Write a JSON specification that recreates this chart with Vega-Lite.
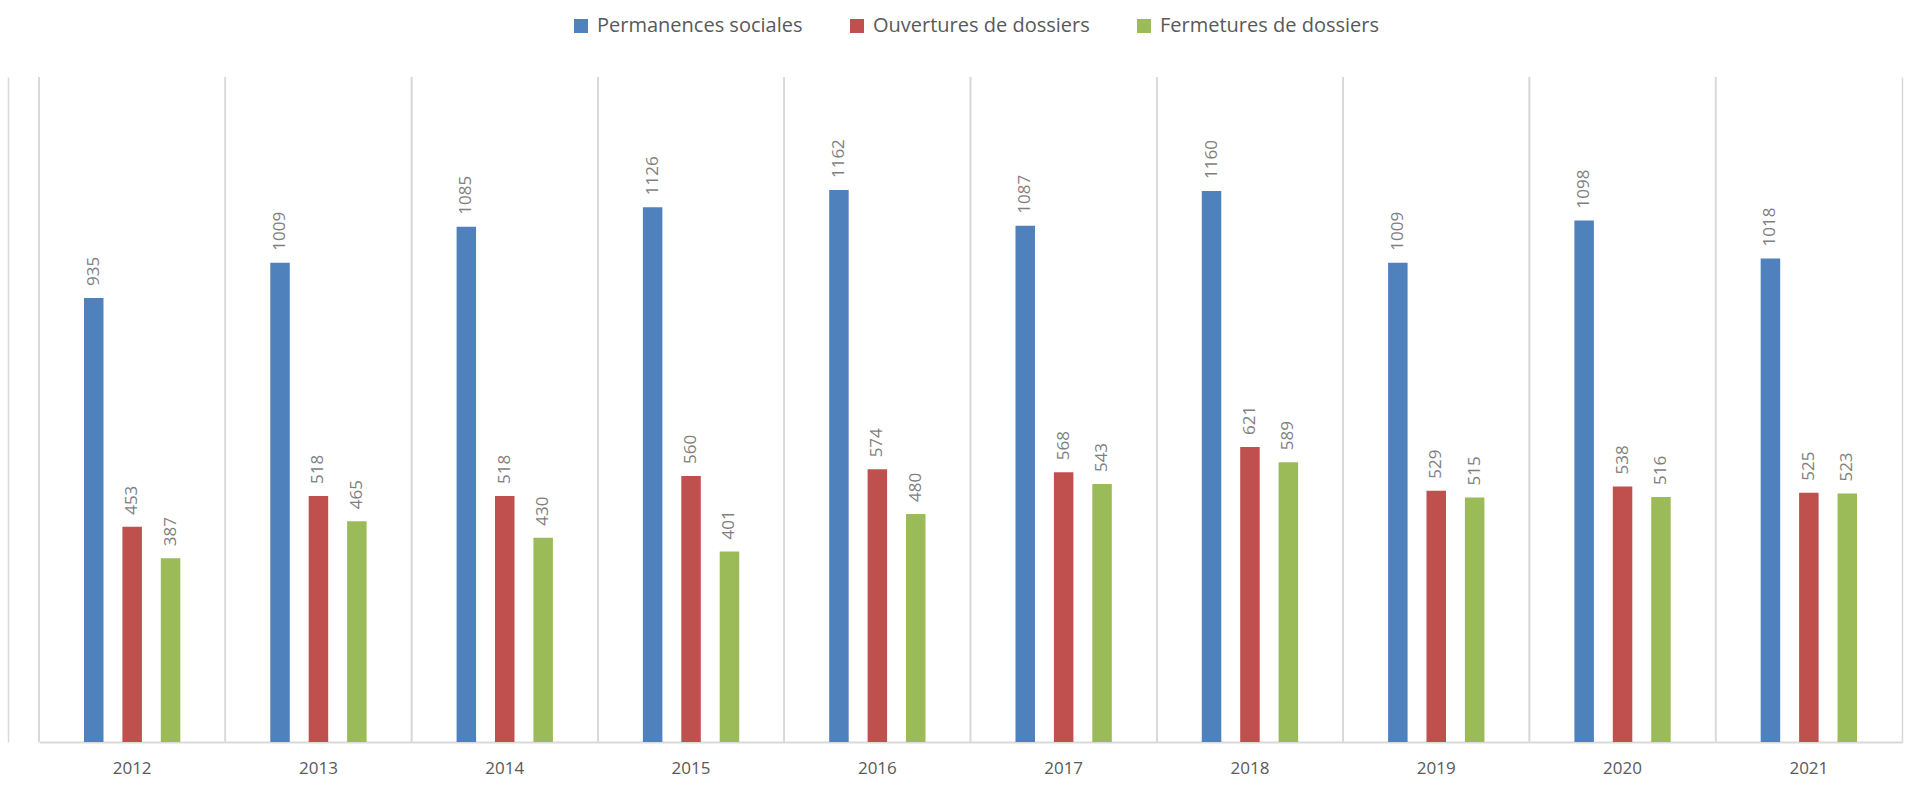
{
  "$schema": "https://vega.github.io/schema/vega-lite/v6.json",
  "width": 1863,
  "height": 665,
  "autosize": {"type": "none"},
  "padding": {"left": 39, "top": 77, "right": 8, "bottom": 51},
  "config": {"view": {"stroke": null}, "font": "Open Sans"},
  "data": {
    "values": [
      {"year": "2012", "serie": "Permanences sociales", "value": 935},
      {"year": "2012", "serie": "Ouvertures de dossiers", "value": 453},
      {"year": "2012", "serie": "Fermetures de dossiers", "value": 387},
      {"year": "2013", "serie": "Permanences sociales", "value": 1009},
      {"year": "2013", "serie": "Ouvertures de dossiers", "value": 518},
      {"year": "2013", "serie": "Fermetures de dossiers", "value": 465},
      {"year": "2014", "serie": "Permanences sociales", "value": 1085},
      {"year": "2014", "serie": "Ouvertures de dossiers", "value": 518},
      {"year": "2014", "serie": "Fermetures de dossiers", "value": 430},
      {"year": "2015", "serie": "Permanences sociales", "value": 1126},
      {"year": "2015", "serie": "Ouvertures de dossiers", "value": 560},
      {"year": "2015", "serie": "Fermetures de dossiers", "value": 401},
      {"year": "2016", "serie": "Permanences sociales", "value": 1162},
      {"year": "2016", "serie": "Ouvertures de dossiers", "value": 574},
      {"year": "2016", "serie": "Fermetures de dossiers", "value": 480},
      {"year": "2017", "serie": "Permanences sociales", "value": 1087},
      {"year": "2017", "serie": "Ouvertures de dossiers", "value": 568},
      {"year": "2017", "serie": "Fermetures de dossiers", "value": 543},
      {"year": "2018", "serie": "Permanences sociales", "value": 1160},
      {"year": "2018", "serie": "Ouvertures de dossiers", "value": 621},
      {"year": "2018", "serie": "Fermetures de dossiers", "value": 589},
      {"year": "2019", "serie": "Permanences sociales", "value": 1009},
      {"year": "2019", "serie": "Ouvertures de dossiers", "value": 529},
      {"year": "2019", "serie": "Fermetures de dossiers", "value": 515},
      {"year": "2020", "serie": "Permanences sociales", "value": 1098},
      {"year": "2020", "serie": "Ouvertures de dossiers", "value": 538},
      {"year": "2020", "serie": "Fermetures de dossiers", "value": 516},
      {"year": "2021", "serie": "Permanences sociales", "value": 1018},
      {"year": "2021", "serie": "Ouvertures de dossiers", "value": 525},
      {"year": "2021", "serie": "Fermetures de dossiers", "value": 523}
    ]
  },
  "resolve": {"axis": {"y": "independent"}},
  "layer": [
    {
      "mark": {"type": "rule", "color": "#d9d9d9", "strokeWidth": 1.5},
      "encoding": {
        "x": {"field": "year", "type": "nominal", "bandPosition": 0,
              "scale": {"paddingInner": 0, "paddingOuter": 0},
              "axis": {"title": null, "labelAngle": 0, "labelFontSize": 17, "labelColor": "#595959",
                       "labelPadding": 18, "ticks": false, "domainColor": "#d9d9d9", "domainWidth": 2, "grid": false}},
        "y": {"datum": 0, "type": "quantitative", "scale": {"domain": [0, 1400]},
              "axis": {"orient": "left", "offset": 31, "labels": false, "ticks": false, "grid": false,
                       "title": null, "domainColor": "#d9d9d9", "domainWidth": 1.5}},
        "y2": {"datum": 1400}
      }
    },
    {
      "mark": {"type": "bar", "width": 19.5},
      "encoding": {
        "x": {"field": "year", "type": "nominal",
              "axis": {"title": null, "labelAngle": 0, "labelFontSize": 17, "labelColor": "#595959",
                       "labelPadding": 18, "ticks": false, "domainColor": "#d9d9d9", "domainWidth": 2, "grid": false}},
        "xOffset": {"field": "serie", "type": "nominal",
                    "sort": ["Permanences sociales", "Ouvertures de dossiers", "Fermetures de dossiers"],
                    "scale": {"paddingInner": 0.15, "paddingOuter": 1}},
        "y": {"field": "value", "type": "quantitative",
              "axis": {"orient": "right", "labels": false, "ticks": false, "grid": false, "title": null,
                       "domainColor": "#d9d9d9", "domainWidth": 1.5}},
        "color": {"field": "serie", "type": "nominal",
                  "sort": ["Permanences sociales", "Ouvertures de dossiers", "Fermetures de dossiers"],
                  "scale": {"domain": ["Permanences sociales", "Ouvertures de dossiers", "Fermetures de dossiers"],
                            "range": ["#4f81bd", "#c0504d", "#9bbb59"]},
                  "legend": {"title": null, "orient": "none", "legendX": 532, "legendY": -61,
                             "direction": "horizontal", "symbolType": "square", "symbolSize": 196,
                             "symbolStrokeWidth": 0, "labelFontSize": 20, "labelColor": "#595959",
                             "labelOffset": 6, "columnPadding": 44, "labelLimit": 400}}
      }
    },
    {
      "mark": {"type": "text", "angle": 270, "align": "left", "baseline": "middle", "dx": 12,
               "fontSize": 17, "color": "#7f7f7f"},
      "encoding": {
        "x": {"field": "year", "type": "nominal"},
        "xOffset": {"field": "serie", "type": "nominal",
                    "sort": ["Permanences sociales", "Ouvertures de dossiers", "Fermetures de dossiers"]},
        "y": {"field": "value", "type": "quantitative", "axis": null},
        "text": {"field": "value", "type": "quantitative"}
      }
    }
  ]
}
